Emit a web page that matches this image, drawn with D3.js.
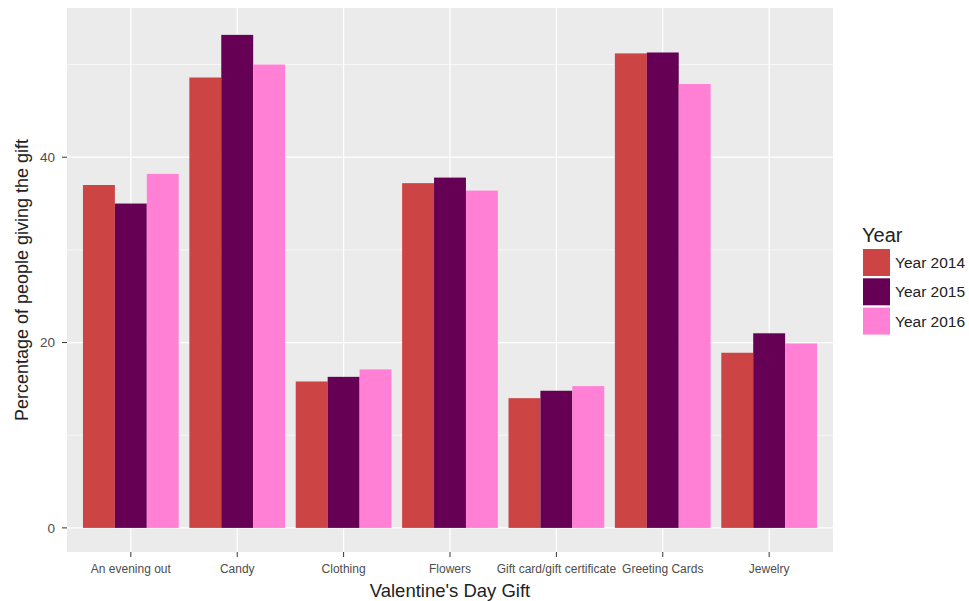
<!DOCTYPE html>
<html><head><meta charset="utf-8">
<script src="https://cdn.jsdelivr.net/npm/d3@7"></script>
<style>body{margin:0;background:#fff;} text{font-family:"Liberation Sans",Arial,sans-serif;}</style>
</head><body><svg id="c" width="969" height="601"></svg>
<script>
const categories = ["An evening out","Candy","Clothing","Flowers","Gift card/gift certificate","Greeting Cards","Jewelry"];
const years = ["Year 2014","Year 2015","Year 2016"];
const values2014 = [37.0, 48.6, 15.8, 37.2, 14.0, 51.2, 18.9];
const values2015 = [35.0, 53.2, 16.3, 37.8, 14.8, 51.3, 21.0];
const values2016 = [38.2, 50.0, 17.1, 36.4, 15.3, 47.9, 19.9];
const colors = ["#cc4444","#660055","#ff80d5"];
const yTicks = [0, 20, 40];
const yMinor = [10, 30, 50];

const series = [values2014, values2015, values2016];
const svg = d3.select("#c");
const L = 67, R = 833, T = 8, B = 552;

// ggplot-like discrete axis: bars 0.9 wide, 0.6 unit expansion each side
const x = d3.scaleBand().domain(categories).range([L, R]).paddingInner(0.1).paddingOuter(0.15);
const cx = c => x(c) + x.bandwidth() / 2;
const sub = d3.scaleBand().domain(years).range([0, x.bandwidth()]);
const y = d3.scaleLinear().domain([-2.6, 56.1]).range([B, T]);
const color = d3.scaleOrdinal().domain(years).range(colors);

svg.append("rect").attr("x", L).attr("y", T).attr("width", R - L).attr("height", B - T).attr("fill", "#ebebeb");
const g = svg.append("g");
yMinor.forEach(v => g.append("line").attr("x1", L).attr("x2", R).attr("y1", y(v)).attr("y2", y(v)).attr("stroke", "#fff").attr("stroke-width", 0.6));
yTicks.forEach(v => g.append("line").attr("x1", L).attr("x2", R).attr("y1", y(v)).attr("y2", y(v)).attr("stroke", "#fff").attr("stroke-width", 1.2));
categories.forEach(c => g.append("line").attr("x1", cx(c)).attr("x2", cx(c)).attr("y1", T).attr("y2", B).attr("stroke", "#fff").attr("stroke-width", 1.2));

categories.forEach((c, i) => {
  series.forEach((s, j) => {
    svg.append("rect")
      .attr("x", x(c) + sub(years[j]))
      .attr("width", sub.bandwidth())
      .attr("y", y(s[i]))
      .attr("height", y(0) - y(s[i]))
      .attr("fill", color(years[j]));
  });
});

// y axis
const ya = svg.append("g");
yTicks.forEach(v => {
  ya.append("line").attr("x1", L - 5).attr("x2", L).attr("y1", y(v)).attr("y2", y(v)).attr("stroke", "#333").attr("stroke-width", 1);
  ya.append("text").attr("x", L - 12).attr("y", y(v)).attr("dy", "0.35em").attr("text-anchor", "end").attr("font-size", 13.5).attr("fill", "#4d4d4d").text(v);
});
// x axis
categories.forEach(c => {
  svg.append("line").attr("x1", cx(c)).attr("x2", cx(c)).attr("y1", B).attr("y2", B + 5).attr("stroke", "#333");
  svg.append("text").attr("x", cx(c)).attr("y", B + 21).attr("text-anchor", "middle").attr("font-size", 12).attr("fill", "#4d4d4d").text(c);
});
svg.append("text").attr("x", (L + R) / 2).attr("y", 597).attr("text-anchor", "middle").attr("font-size", 18.5).attr("fill", "#222").text("Valentine's Day Gift");
svg.append("text").attr("transform", `translate(28,${(T + B) / 2}) rotate(-90)`).attr("text-anchor", "middle").attr("font-size", 18).attr("fill", "#222").text("Percentage of people giving the gift");

// legend
const lg = svg.append("g");
lg.append("text").attr("x", 862).attr("y", 242).attr("font-size", 20).attr("fill", "#222").text("Year");
years.forEach((yr, j) => {
  const ky = 249 + j * 29.3;
  lg.append("rect").attr("x", 863).attr("y", ky).attr("width", 27).attr("height", 27).attr("fill", color(yr));
  lg.append("text").attr("x", 895).attr("y", ky + 13.5).attr("dy", "0.35em").attr("font-size", 15.5).attr("fill", "#222").text(yr);
});
</script></body></html>
